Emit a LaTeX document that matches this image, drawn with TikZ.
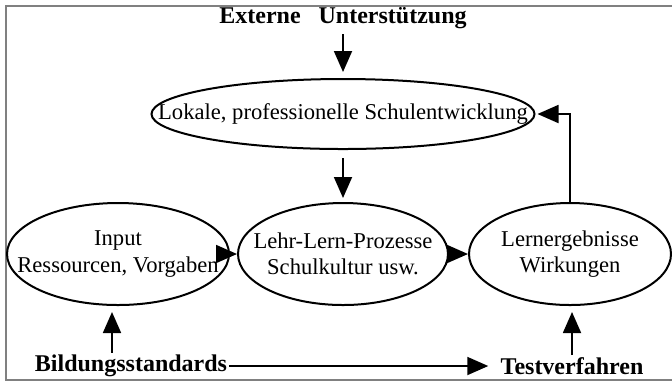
\documentclass[tikz,border=0pt]{standalone}
\usepackage{fontspec}
\setmainfont{Liberation Serif}
\usetikzlibrary{
arrows.meta,
positioning,
shapes.geometric
}
\definecolor{RahmenGrau}{HTML}{808080}
\tikzset{
feld/.style={ellipse, draw=black, line width=1pt, inner sep=0pt, minimum height=51pt},
inhalt/.style={align=center, inner sep=0pt, font=\fontsize{11.3}{13.3}\selectfont},
marke/.style={font=\bfseries\fontsize{12}{14}\selectfont, inner sep=1pt},
pfeil/.style={-{Triangle[length=10.5pt,width=9pt]}, line width=0.9pt, draw=black}
}

\begin{document}
\begin{tikzpicture}[x=0.5pt,y=-0.5pt]
\useasboundingbox (0,0) rectangle (672,382);
\draw[RahmenGrau, line width=1pt] (672,6) -- (5.5,6) -- (5.5,380) -- (672,380);

\node[feld, minimum width=105pt, label={[inhalt]center:{Lehr-Lern-Prozesse\\Schulkultur usw.}}] (lehr) at (343,254) {};
\node[feld, minimum width=111pt, left=3.5pt of lehr, label={[inhalt]center:{Input\\Ressourcen, Vorgaben}}] (input) {};
\node[feld, minimum width=101pt, right=9.5pt of lehr, label={[inhalt]center:{Lernergebnisse\\Wirkungen}}] (ergebnis) {};
\node[feld, minimum width=191.5pt, minimum height=35pt, label={[inhalt]center:{Lokale, professionelle Schulentwicklung}}] (lokal) at (343,114) {};
\node[marke] (extern) at (343,18) {Externe\hspace{6pt} Unterstützung};
\node[marke] (bild) at (131,366) {Bildungsstandards};
\node[marke] (test) at (572,366) {Testverfahren};

\draw[pfeil, shorten <=1.5pt, shorten >=3pt] (extern) -- (lokal);
\draw[pfeil, shorten <=4pt, shorten >=2pt] (lokal) -- (lehr);
\draw[pfeil] (input) -- (lehr);
\draw[pfeil] (lehr) -- (ergebnis);
\draw[pfeil, shorten >=1pt] (ergebnis.north) |- (lokal.east);
\draw[pfeil, shorten >=3pt] ([xshift=-9.5pt]bild.north) -- ([xshift=-9.5pt]bild.north |- input.south);
\draw[pfeil, shorten >=3pt] (test.north) -- (test.north |- ergebnis.south);
\draw[pfeil, shorten >=5pt] (bild.east) -- (test.west);
\end{tikzpicture}
\end{document}
